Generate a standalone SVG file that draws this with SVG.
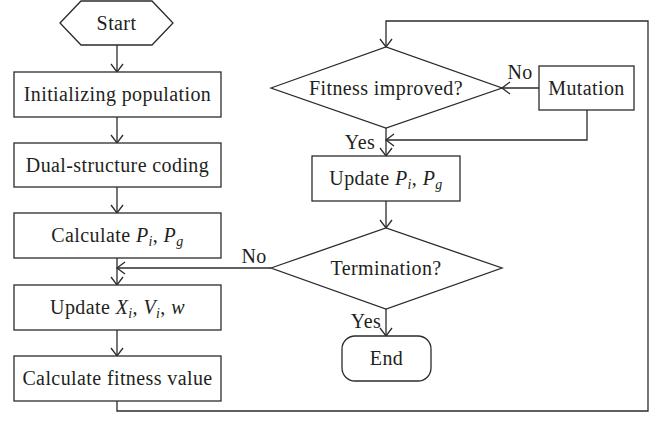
<svg xmlns="http://www.w3.org/2000/svg" width="654" height="421" viewBox="0 0 654 421">
<defs>
<marker id="arr" markerUnits="userSpaceOnUse" markerWidth="16" markerHeight="16" refX="9" refY="7" orient="auto">
<path d="M1,1 L9,7 L1,13" fill="none" stroke="#2b2b2b" stroke-width="1.3"/>
</marker>
</defs>
<style>
.s{fill:#fff;stroke:#2b2b2b;stroke-width:1.3}
.c{fill:none;stroke:#2b2b2b;stroke-width:1.3}
text{font-family:"Liberation Serif","DejaVu Serif",serif;font-size:20px;letter-spacing:0.4px;fill:#231f20;text-anchor:middle}
.i{font-style:italic}
.sub{font-size:14px;font-style:italic}
</style>
<rect width="654" height="421" fill="#fff"/>
<g id="connectors">
<path class="c" d="M117,45 V72" marker-end="url(#arr)"/>
<path class="c" d="M117,117 V143" marker-end="url(#arr)"/>
<path class="c" d="M117,187 V213" marker-end="url(#arr)"/>
<path class="c" d="M117,258 V285" marker-end="url(#arr)"/>
<path class="c" d="M117,330 V356" marker-end="url(#arr)"/>
<path class="c" d="M271,268 H117" marker-end="url(#arr)"/>
<path class="c" d="M117,401 V411 H648 V21 H386 V47" marker-end="url(#arr)"/>
<path class="c" d="M386,128 V156" marker-end="url(#arr)"/>
<path class="c" d="M539,88 H502" marker-end="url(#arr)"/>
<path class="c" d="M587,110 V140 H386" marker-end="url(#arr)"/>
<path class="c" d="M386,201 V228" marker-end="url(#arr)"/>
<path class="c" d="M386,309 V336" marker-end="url(#arr)"/>
<text x="254" y="263">No</text>
<text x="520" y="79">No</text>
<text x="360" y="149">Yes</text>
<text x="366" y="328">Yes</text>
</g>
<g id="start">
<polygon class="s" points="60,23 81,1 152,1 173,23 152,45 81,45"/>
<text x="116.5" y="30">Start</text>
</g>
<g id="init">
<rect class="s" x="14" y="72" width="207" height="45"/>
<text x="117.5" y="101">Initializing population</text>
</g>
<g id="dual">
<rect class="s" x="14" y="143" width="207" height="44"/>
<text x="117.5" y="172">Dual-structure coding</text>
</g>
<g id="calcp">
<rect class="s" x="14" y="213" width="207" height="45"/>
<text x="117.5" y="242">Calculate <tspan class="i">P</tspan><tspan class="sub" dy="4">i</tspan><tspan dy="-4">, </tspan><tspan class="i">P</tspan><tspan class="sub" dy="4">g</tspan></text>
</g>
<g id="updatex">
<rect class="s" x="14" y="285" width="207" height="45"/>
<text x="117.5" y="314">Update <tspan class="i">X</tspan><tspan class="sub" dy="4">i</tspan><tspan dy="-4">, </tspan><tspan class="i">V</tspan><tspan class="sub" dy="4">i</tspan><tspan dy="-4">, </tspan><tspan class="i">w</tspan></text>
</g>
<g id="calcfit">
<rect class="s" x="14" y="356" width="207" height="45"/>
<text x="117.5" y="385">Calculate fitness value</text>
</g>
<g id="fitness">
<polygon class="s" points="271,88 386,47 502,88 386,128"/>
<text x="386" y="95">Fitness improved?</text>
</g>
<g id="mutation">
<rect class="s" x="539" y="66" width="95" height="44"/>
<text x="586.5" y="95">Mutation</text>
</g>
<g id="updatep">
<rect class="s" x="312" y="156" width="148" height="45"/>
<text x="386" y="185">Update <tspan class="i">P</tspan><tspan class="sub" dy="4">i</tspan><tspan dy="-4">, </tspan><tspan class="i">P</tspan><tspan class="sub" dy="4">g</tspan></text>
</g>
<g id="termination">
<polygon class="s" points="271,268 386,228 502,268 386,309"/>
<text x="386" y="275">Termination?</text>
</g>
<g id="end">
<rect class="s" x="342" y="336" width="89" height="45" rx="13"/>
<text x="386.5" y="365">End</text>
</g>
</svg>
